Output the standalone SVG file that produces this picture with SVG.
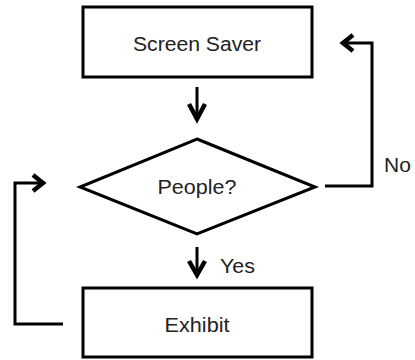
<svg xmlns="http://www.w3.org/2000/svg" width="415" height="360" viewBox="0 0 415 360">
<style>
.box{fill:#fff;stroke:#000;stroke-width:3}
.ln{fill:none;stroke:#000;stroke-width:3}
.hd{fill:none;stroke:#000;stroke-width:4.5;stroke-linejoin:miter;stroke-linecap:butt}
.t{font-family:"Liberation Sans",Arial,sans-serif;font-size:20px;fill:#222;text-anchor:middle}
.lb{font-family:"Liberation Sans",Arial,sans-serif;font-size:21px;fill:#222}
</style>
<rect width="415" height="360" fill="#fff"/>
<g id="screen-saver">
<rect class="box" x="83" y="7" width="229" height="70"/>
<text class="t" x="197" y="51" textLength="128" lengthAdjust="spacingAndGlyphs">Screen Saver</text>
</g>
<g id="people">
<polygon class="box" points="197,139 315,187 197,234 80,187"/>
<text class="t" x="197" y="194" textLength="79" lengthAdjust="spacingAndGlyphs">People?</text>
</g>
<g id="exhibit">
<rect class="box" x="83" y="288" width="229" height="69"/>
<text class="t" x="197" y="332" textLength="65" lengthAdjust="spacingAndGlyphs">Exhibit</text>
</g>
<g id="connectors">
<line class="ln" x1="197" y1="87" x2="197" y2="119"/>
<polyline class="hd" points="189,104 197,119 205,104"/>
<line class="ln" x1="197" y1="247" x2="197" y2="275"/>
<polyline class="hd" points="189,261 197,275 205,261"/>
<polyline class="ln" points="325,186 372,186 372,43 344,43"/>
<polyline class="hd" points="353,35 343,43 353,51"/>
<polyline class="ln" points="63,324 15,324 15,183 42,183"/>
<polyline class="hd" points="33,175 43,183 33,191"/>
<text class="lb" x="220" y="273" textLength="35" lengthAdjust="spacingAndGlyphs">Yes</text>
<text class="lb" x="384" y="172">No</text>
</g>
</svg>
